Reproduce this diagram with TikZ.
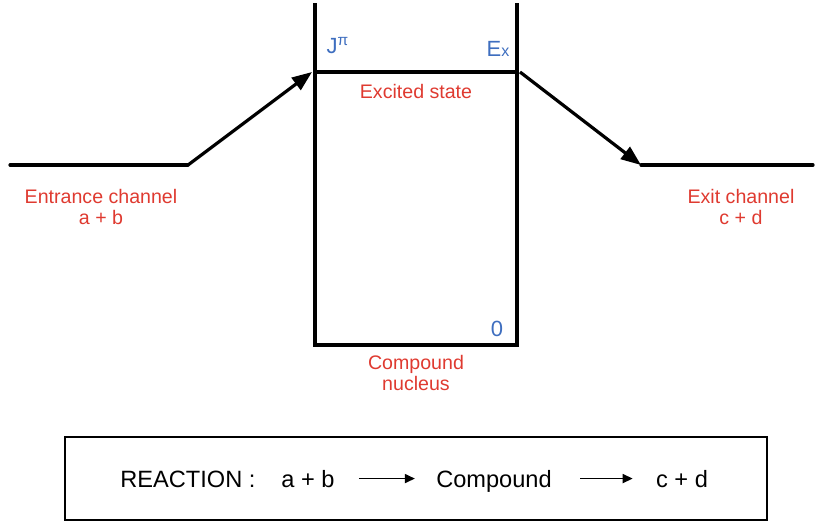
\documentclass[tikz,border=0pt]{standalone}
\usepackage{fontspec}
\setmainfont{Liberation Sans}
\usetikzlibrary{arrows.meta, positioning}
\definecolor{labelred}{HTML}{DF3A30}
\definecolor{levelblue}{HTML}{3E6EBF}

\tikzset{
  level/.style={line width=1.6pt, line cap=round},
  jump/.style={line width=1.6pt, -{Triangle[length=10pt, width=7.5pt]}},
  redlabel/.style={text=labelred, align=center, inner sep=0pt,
                   font=\fontsize{9.8}{10.5}\selectfont},
  bluelabel/.style={text=levelblue, inner sep=0pt,
                    font=\fontsize{11}{12}\selectfont},
  eqtext/.style={inner sep=0pt, anchor=base, font=\fontsize{11.8}{13}\selectfont},
  eqarrow/.style={line width=0.8pt, -{Triangle[length=5pt, width=4.5pt]}}
}

\begin{document}
\begin{tikzpicture}[x=0.5pt, y=-0.5pt]
  \useasboundingbox (0,0) rectangle (815,525);

  % channel levels
  \coordinate (entL) at (10,165);
  \coordinate (entR) at (188,165);
  \coordinate (exL) at (641,165);
  \coordinate (exR) at (813,165);
  \draw[level] (entL) -- (entR);
  \draw[level] (exL) -- (exR);

  % compound nucleus well
  \coordinate (wellTL) at (315,3);
  \coordinate (wellBL) at (315,345);
  \coordinate (wellBR) at (517,345);
  \coordinate (wellTR) at (517,3);
  \draw[line width=1.6pt] (wellTL) -- (wellBL) -- (wellBR) -- (wellTR);

  % excited state
  \coordinate (exciteL) at (315,72);
  \coordinate (exciteR) at (517,72);
  \draw[level] (exciteL) -- (exciteR);

  % transitions
  \draw[jump] (entR) -- ([xshift=-1.5pt]exciteL);
  \draw[jump] ([xshift=1.5pt]exciteR) -- (exL);

  % labels
  \node[redlabel] (entrance) at (101,207) {Entrance channel\\a + b};
  \node[redlabel] (exit) at (741,207) {Exit channel\\c + d};
  \node[redlabel] (excited) at (416,91) {Excited state};
  \node[redlabel] (compound) at (416,373) {Compound\\nucleus};
  \node[bluelabel] (spin) at (338,46) {J\textsuperscript{π}};
  \node[bluelabel] (energy) at (498,49) {E{\fontsize{8}{9}\selectfont x}};
  \node[bluelabel] (ground) at (497,329) {0};

  % reaction box
  \draw[line width=0.9pt] (65,437) rectangle (767,520);
  \node[eqtext, anchor=base west] (reaction) at (120,487) {REACTION :};
  \node[eqtext] (ab) at (308,487) {a + b};
  \node[eqtext] (cmp) at (494,487) {Compound};
  \node[eqtext] (cd) at (682,487) {c + d};
  \draw[eqarrow, shorten <=12pt, shorten >=10.5pt] (ab.east) -- (ab.east -| cmp.west);
  \draw[eqarrow, shorten <=14pt, shorten >=11.5pt] (ab.east -| cmp.east) -- (ab.east -| cd.west);
\end{tikzpicture}
\end{document}
